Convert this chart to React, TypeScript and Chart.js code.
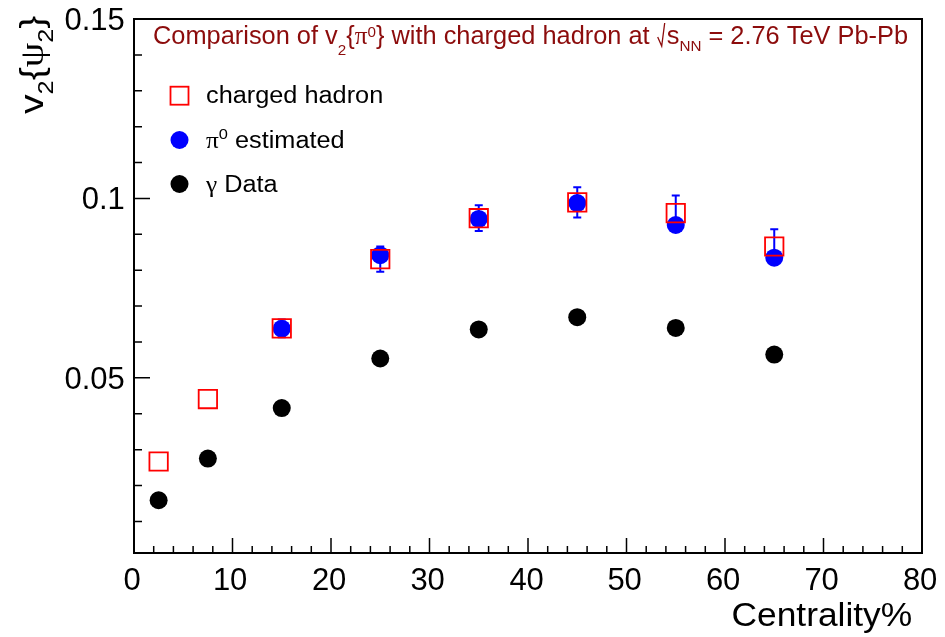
import React, { useEffect, useRef } from "react";
import { Chart, registerables } from "chart.js";

Chart.register(...registerables);

// ---- data ----
const centrality = [2.5, 7.5, 15, 25, 35, 45, 55, 65];
const chargedHadron = [0.0267, 0.0441, 0.0638, 0.0831, 0.0945, 0.0989, 0.0959, 0.0866];
const chargedHadronErr = [0, 0, 0.0025, 0.0035, 0.0036, 0.0042, 0.0049, 0.0048];
const pi0Centrality = [15, 25, 35, 45, 55, 65];
const pi0Estimated = [0.0637, 0.0842, 0.0943, 0.0987, 0.0926, 0.0835];
const gammaData = [0.0159, 0.0275, 0.0416, 0.0554, 0.0635, 0.0669, 0.0639, 0.0565];

const xMajorTicks = [0, 10, 20, 30, 40, 50, 60, 70, 80];
const xTickLabels = ["0", "10", "20", "30", "40", "50", "60", "70", "80"];
const xMinorTicks = [2, 4, 6, 8, 12, 14, 16, 18, 22, 24, 26, 28, 32, 34, 36, 38, 42, 44, 46, 48, 52, 54, 56, 58, 62, 64, 66, 68, 72, 74, 76, 78];
const yMajorTicks = [0.05, 0.1, 0.15];
const yTickLabels = ["0.05", "0.1", "0.15"];
const yMinorTicks = [0.01, 0.02, 0.03, 0.04, 0.06, 0.07, 0.08, 0.09, 0.11, 0.12, 0.13, 0.14];

const legendLabels = ["charged hadron", "estimated", "Data"];

const SANS = '"Liberation Sans", Arial, Helvetica, sans-serif';
const SERIF = '"Liberation Serif", "Times New Roman", serif';
const TITLE_COLOR = "#8c0c0c";

type Run = { t: string; s: number; dy: number; f?: string };

function drawRuns(ctx: CanvasRenderingContext2D, runs: Run[], x: number, y: number, size: number, sx = 1): number[] {
  const starts: number[] = [];
  let cx = x;
  for (const r of runs) {
    ctx.font = `${size * r.s}px ${r.f || SANS}`;
    starts.push(cx);
    ctx.save();
    ctx.translate(cx, y + r.dy);
    ctx.scale(sx, 1);
    ctx.fillText(r.t, 0, 0);
    ctx.restore();
    cx += ctx.measureText(r.t).width * sx;
  }
  starts.push(cx);
  return starts;
}

const decorPlugin = {
  id: "decor",
  beforeDatasetsDraw(chart: any) {
    const ctx: CanvasRenderingContext2D = chart.ctx;
    const xs = chart.scales.x;
    const ys = chart.scales.y;
    ctx.save();
    ctx.strokeStyle = "#0000ff";
    ctx.lineWidth = 2;
    centrality.forEach((c, i) => {
      const e = chargedHadronErr[i];
      if (!e) return;
      const px = xs.getPixelForValue(c);
      const y1 = ys.getPixelForValue(chargedHadron[i] + e);
      const y2 = ys.getPixelForValue(chargedHadron[i] - e);
      ctx.beginPath();
      ctx.moveTo(px, y1);
      ctx.lineTo(px, y2);
      ctx.moveTo(px - 4, y1);
      ctx.lineTo(px + 4, y1);
      ctx.moveTo(px - 4, y2);
      ctx.lineTo(px + 4, y2);
      ctx.stroke();
    });
    ctx.restore();
  },
  afterDraw(chart: any) {
    const ctx: CanvasRenderingContext2D = chart.ctx;
    const a = chart.chartArea;
    const xs = chart.scales.x;
    const ys = chart.scales.y;
    ctx.save();
    // frame
    ctx.strokeStyle = "#000";
    ctx.lineWidth = 2;
    ctx.strokeRect(a.left, a.top, a.right - a.left, a.bottom - a.top);
    // ticks
    ctx.lineWidth = 1.5;
    ctx.beginPath();
    xMajorTicks.forEach((v) => {
      const p = xs.getPixelForValue(v);
      ctx.moveTo(p, a.bottom);
      ctx.lineTo(p, a.bottom - 15);
    });
    xMinorTicks.forEach((v) => {
      const p = xs.getPixelForValue(v);
      ctx.moveTo(p, a.bottom);
      ctx.lineTo(p, a.bottom - 7);
    });
    yMajorTicks.forEach((v) => {
      const p = ys.getPixelForValue(v);
      ctx.moveTo(a.left, p);
      ctx.lineTo(a.left + 16, p);
    });
    yMinorTicks.forEach((v) => {
      const p = ys.getPixelForValue(v);
      ctx.moveTo(a.left, p);
      ctx.lineTo(a.left + 8, p);
    });
    ctx.stroke();

    // tick labels
    ctx.fillStyle = "#000";
    ctx.textAlign = "left";
    ctx.textBaseline = "alphabetic";
    ctx.font = `31px ${SANS}`;
    xMajorTicks.forEach((v, i) => {
      const s = xTickLabels[i];
      const m = ctx.measureText(s);
      const cx = xs.getPixelForValue(v) - 1.5;
      ctx.fillText(s, cx - (m.actualBoundingBoxRight - m.actualBoundingBoxLeft) / 2, a.bottom + 37);
    });
    yMajorTicks.forEach((v, i) => {
      const s = yTickLabels[i];
      const m = ctx.measureText(s);
      ctx.fillText(s, a.left - 10.5 - m.actualBoundingBoxRight, ys.getPixelForValue(v) + 11);
    });

    // x axis title
    ctx.font = `34px ${SANS}`;
    {
      const s = "Centrality%";
      const m = ctx.measureText(s);
      ctx.save();
      ctx.translate(912, 626);
      ctx.scale(1.04, 1);
      ctx.fillText(s, -m.actualBoundingBoxRight, 0);
      ctx.restore();
    }

    // y axis title (rotated)
    ctx.save();
    ctx.translate(43, 114);
    ctx.rotate(-Math.PI / 2);
    drawRuns(
      ctx,
      [
        { t: "v", s: 1, dy: 0 },
        { t: "2", s: 0.65, dy: 10 },
        { t: "{", s: 1, dy: 0 },
        { t: "\u03c8", s: 1, dy: 0, f: SERIF },
        { t: "2", s: 0.65, dy: 10 },
        { t: "}", s: 1, dy: 0 },
      ],
      0,
      0,
      34,
      1.15
    );
    ctx.restore();

    // title
    ctx.fillStyle = TITLE_COLOR;
    const size = 25;
    const tsx = 1.015;
    const st = drawRuns(
      ctx,
      [
        { t: "Comparison of v", s: 1, dy: 0 },
        { t: "2", s: 0.6, dy: 11 },
        { t: "{", s: 1, dy: 0 },
        { t: "\u03c0", s: 1, dy: 0, f: SERIF },
        { t: "0", s: 0.6, dy: -7 },
        { t: "} with charged hadron at ", s: 1, dy: 0 },
      ],
      153,
      44,
      size,
      tsx
    );
    const rx = st[st.length - 1];
    ctx.strokeStyle = TITLE_COLOR;
    ctx.lineWidth = 1.3;
    ctx.beginPath();
    ctx.moveTo(rx + 1, 37);
    ctx.lineTo(rx + 5, 46);
    ctx.lineTo(rx + 8, 23);
    ctx.stroke();
    drawRuns(
      ctx,
      [
        { t: "s", s: 1, dy: 0 },
        { t: "NN", s: 0.6, dy: 7 },
        { t: " = 2.76 TeV Pb-Pb", s: 1, dy: 0 },
      ],
      rx + 10,
      44,
      size,
      tsx
    );

    // legend
    const lx = 179.5;
    const ly = [95.7, 140, 184];
    ctx.strokeStyle = "#ff0000";
    ctx.lineWidth = 1.8;
    ctx.strokeRect(lx - 9, ly[0] - 9, 18, 18);
    ctx.fillStyle = "#0000ff";
    ctx.beginPath();
    ctx.arc(lx, ly[1], 9, 0, Math.PI * 2);
    ctx.fill();
    ctx.fillStyle = "#000";
    ctx.beginPath();
    ctx.arc(lx, ly[2], 9, 0, Math.PI * 2);
    ctx.fill();

    const lsize = 23;
    const lsx = 1.1;
    ctx.fillStyle = "#000";
    drawRuns(ctx, [{ t: legendLabels[0], s: 1, dy: 0 }], 206, ly[0] + 7.5, lsize, lsx);
    drawRuns(
      ctx,
      [
        { t: "\u03c0", s: 1, dy: 0, f: SERIF },
        { t: "0", s: 0.65, dy: -9 },
        { t: " " + legendLabels[1], s: 1, dy: 0 },
      ],
      206,
      ly[1] + 8,
      lsize,
      lsx
    );
    drawRuns(
      ctx,
      [
        { t: "\u03b3", s: 1, dy: 0, f: SERIF },
        { t: " " + legendLabels[2], s: 1, dy: 0 },
      ],
      206,
      ly[2] + 7.5,
      lsize,
      lsx
    );
    ctx.restore();
  },
};

export default function App() {
  const ref = useRef<HTMLCanvasElement | null>(null);
  useEffect(() => {
    if (!ref.current) return;
    const chart = new Chart(ref.current, {
      type: "scatter",
      data: {
        datasets: [
          {
            label: "charged hadron",
            data: centrality.map((x, i) => ({ x, y: chargedHadron[i] })),
            pointStyle: "rect",
            pointRadius: 13,
            pointBorderWidth: 1.8,
            borderColor: "#ff0000",
            backgroundColor: "rgba(0,0,0,0)",
            showLine: false,
          },
          {
            label: "pi0 estimated",
            data: pi0Centrality.map((x, i) => ({ x, y: pi0Estimated[i] })),
            pointStyle: "circle",
            pointRadius: 9,
            pointBorderWidth: 0,
            borderColor: "#0000ff",
            backgroundColor: "#0000ff",
            showLine: false,
          },
          {
            label: "gamma Data",
            data: centrality.map((x, i) => ({ x, y: gammaData[i] })),
            pointStyle: "circle",
            pointRadius: 9,
            pointBorderWidth: 0,
            borderColor: "#000",
            backgroundColor: "#000",
            showLine: false,
          },
        ],
      },
      options: {
        responsive: false,
        animation: false,
        events: [],
        layout: { padding: { left: 134, top: 19, right: 23, bottom: 84 } },
        scales: {
          x: { type: "linear", min: 0, max: 80, display: false },
          y: { type: "linear", min: 0.0012, max: 0.15, display: false },
        },
        plugins: { legend: { display: false }, tooltip: { enabled: false } },
      },
      plugins: [decorPlugin],
    });
    return () => chart.destroy();
  }, []);
  return (
    <div style={{ position: "fixed", left: 0, top: 0, width: 945, height: 637, background: "#fff" }}>
      <canvas ref={ref} width={945} height={637} style={{ display: "block" }} />
    </div>
  );
}
